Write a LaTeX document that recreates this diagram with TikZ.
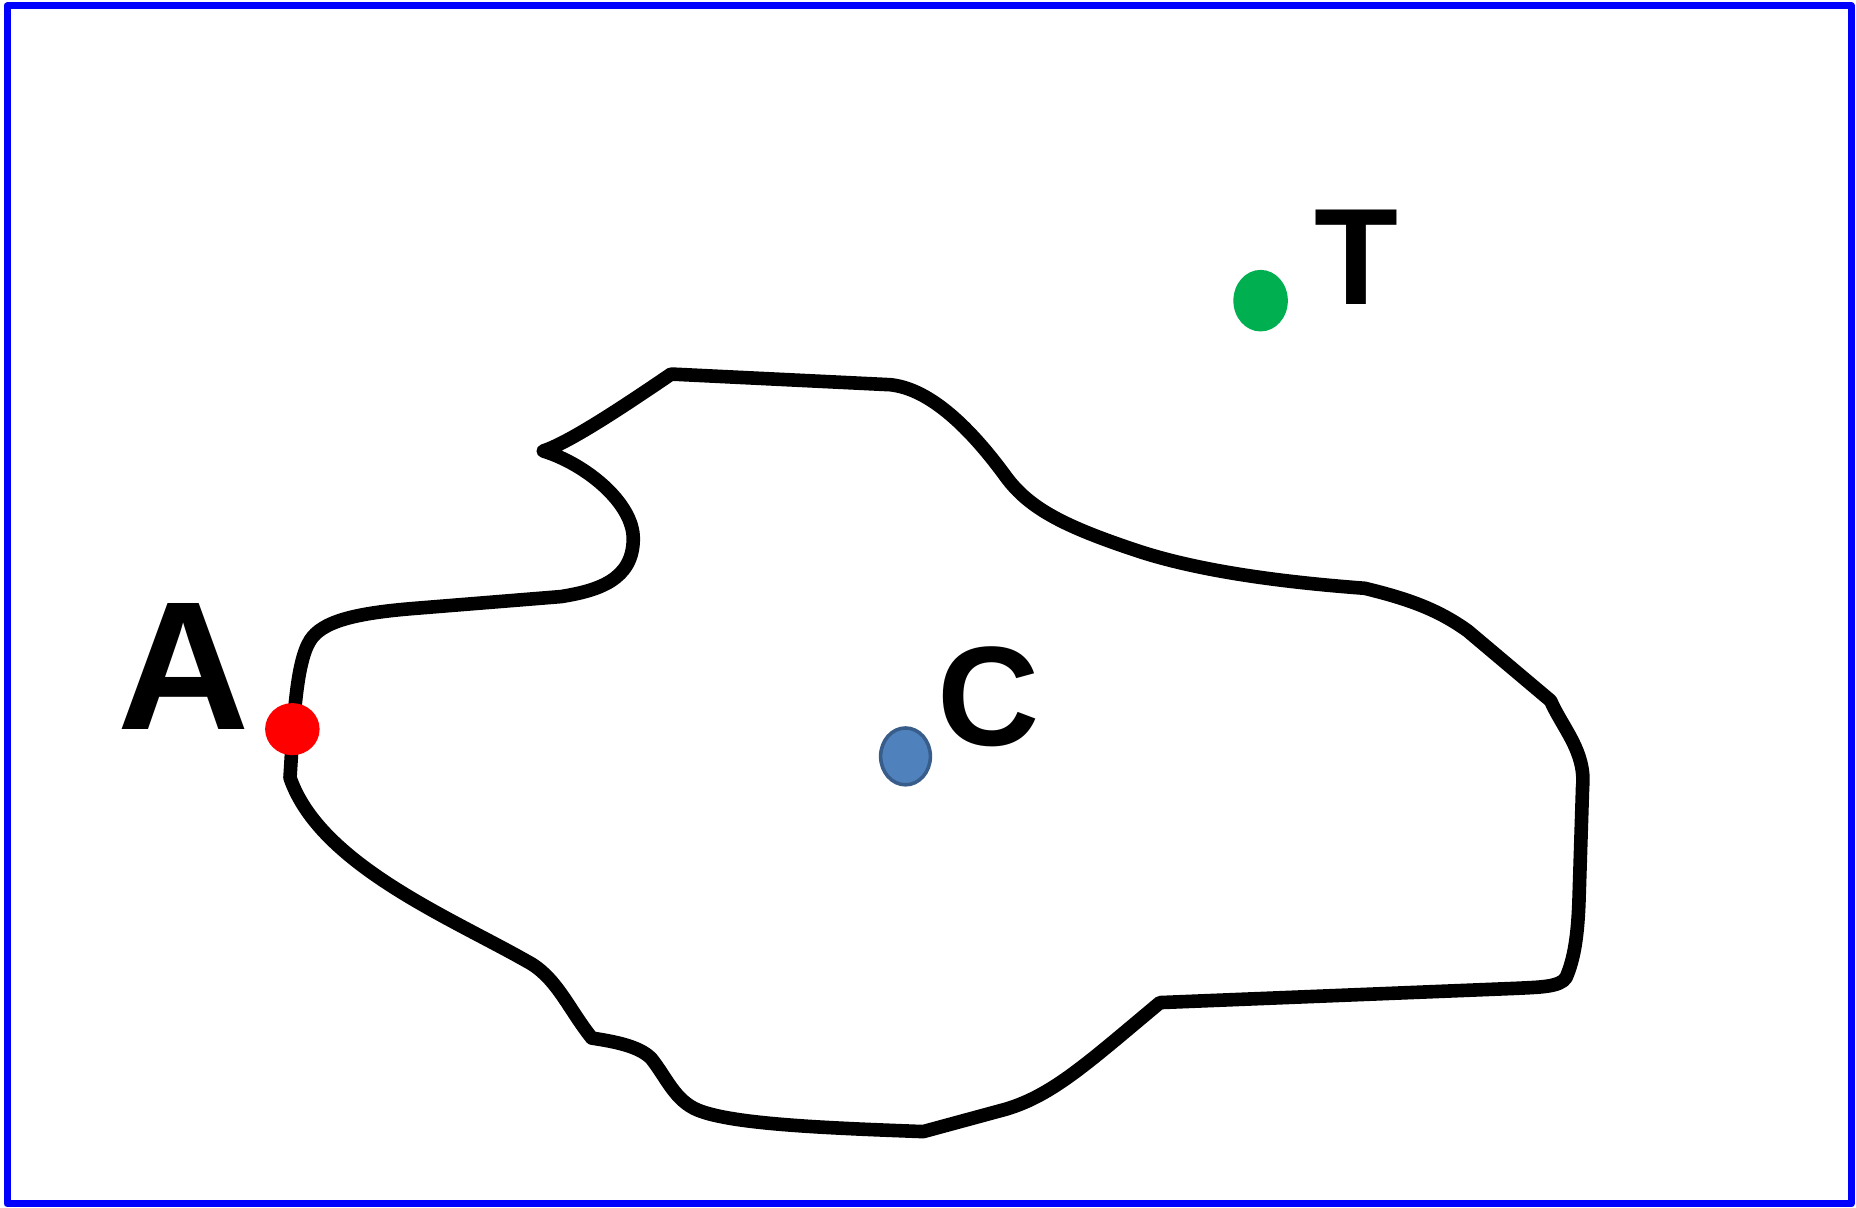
\documentclass[tikz,border=0pt]{standalone}
\usepackage{fontspec}
\setmainfont{Liberation Sans}
\usetikzlibrary{shapes.geometric}
\definecolor{dotgreen}{HTML}{00B050}
\definecolor{dotblue}{HTML}{4F81BD}
\definecolor{dotedge}{HTML}{385D8A}
\begin{document}
\begin{tikzpicture}[x=0.01cm, y=-0.01cm, line join=round, line cap=round,
	dot/.style={ellipse, inner sep=0pt},
	lbl/.style={inner sep=0pt, font=\fontsize{34}{34}\selectfont\bfseries}]
	\useasboundingbox (0,0) rectangle (1568,1020);
	% Rahmen
	\draw[blue, line width=0.06cm] (6,5) rectangle (1564,1017);
	% Umriss des Gebiets
	\draw[line width=0.115cm]
		(459,381) .. controls (480,374) and (520,348) .. (567,316)
		-- (752,325) .. controls (782,328) and (815,355) .. (850,403)
		.. controls (870,430) and (900,445) .. (960,465)
		.. controls (1020,485) and (1100,493) .. (1153,497)
		.. controls (1190,506) and (1215,515) .. (1240,533)
		-- (1310,592) .. controls (1320,615) and (1340,635) .. (1337,665)
		-- (1334,760) .. controls (1333,790) and (1330,810) .. (1323,826)
		.. controls (1318,834) and (1300,834) .. (1280,835)
		-- (980,847) .. controls (920,897) and (890,925) .. (850,937)
		-- (780,956) .. controls (700,953) and (620,950) .. (590,938)
		.. controls (570,930) and (563,910) .. (550,894)
		.. controls (540,884) and (520,880) .. (500,877)
		.. controls (480,852) and (470,825) .. (445,812)
		.. controls (380,775) and (270,730) .. (245,657)
		.. controls (248,610) and (250,560) .. (262,541)
		.. controls (272,525) and (300,518) .. (350,514)
		-- (474,504) .. controls (505,499) and (535,490) .. (535,455)
		.. controls (535,425) and (495,392) .. (459,381)
		-- cycle;
	% Punkte
	\node[dot, fill=red, minimum width=0.46cm, minimum height=0.44cm] (a) at (247,616) {};
	\node[dot, fill=dotgreen, minimum width=0.46cm, minimum height=0.52cm] (t) at (1065,254) {};
	\node[dot, fill=dotblue, draw=dotedge, line width=0.03cm, minimum width=0.42cm, minimum height=0.48cm] (c) at (765,639) {};
	% Beschriftung
	\node[lbl, font=\fontsize{44}{44}\selectfont\bfseries] (la) at (155,563) {A};
	\node[lbl, font=\fontsize{33}{33}\selectfont\bfseries] (lt) at (1146,217) {T};
	\node[lbl] (lc) at (835,589) {C};
\end{tikzpicture}
\end{document}
